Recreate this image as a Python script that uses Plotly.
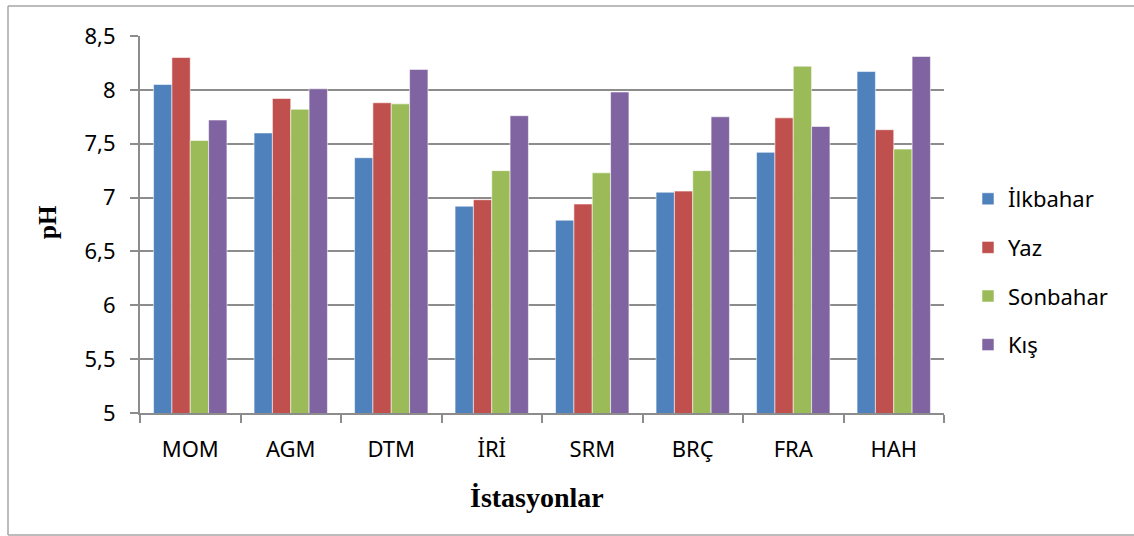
import plotly.graph_objects as go

stations = ["MOM", "AGM", "DTM", "İRİ", "SRM", "BRÇ", "FRA", "HAH"]
ilkbahar = [8.05, 7.60, 7.37, 6.92, 6.79, 7.05, 7.42, 8.17]
yaz      = [8.30, 7.92, 7.88, 6.98, 6.94, 7.06, 7.74, 7.63]
sonbahar = [7.53, 7.82, 7.87, 7.25, 7.23, 7.25, 8.22, 7.45]
kis      = [7.72, 8.01, 8.19, 7.76, 7.98, 7.75, 7.66, 8.31]

series_names = ["İlkbahar", "Yaz", "Sonbahar", "Kış"]
series_vals = [ilkbahar, yaz, sonbahar, kis]
colors = ["#4F81BD", "#C0504D", "#9BBB59", "#8064A2"]

y_ticks = [5, 5.5, 6, 6.5, 7, 7.5, 8, 8.5]
y_ticktext = [str(v).replace(".", ",") if v != int(v) else str(int(v)) for v in y_ticks]

fig = go.Figure()
for i, (name, vals, col) in enumerate(zip(series_names, series_vals, colors)):
    fig.add_trace(go.Bar(
        x=stations, y=vals, name=name, legendgroup=name,
        marker=dict(color=col, line=dict(color="rgba(255,255,255,0.55)", width=1)),
    ))

tick_font = dict(family="Noto Sans, Open Sans, sans-serif", size=22, color="#000000")
L, R, T, B = 140, 190, 36, 123
W, H = 1134, 536
pw, ph = W - L - R, H - T - B

def px_x(px):
    return (px - L) / pw

def px_y(py):
    return (H - B - py) / ph

frame = dict(color="#a6a6a6", width=1.5)
fig.update_layout(
    width=W, height=H,
    margin=dict(l=L, r=R, t=T, b=B, autoexpand=False),
    paper_bgcolor="white", plot_bgcolor="white",
    barmode="group", bargap=0.27, bargroupgap=0,
    showlegend=True,
    legend=dict(
        x=px_x(968), y=px_y(178), xanchor="left", yanchor="top",
        font=tick_font, tracegroupgap=17, itemwidth=30,
        bgcolor="rgba(0,0,0,0)",
    ),
    xaxis=dict(
        type="category", tickson="boundaries", ticks="outside", ticklen=8,
        tickwidth=2, tickcolor="#8c8c8c", showline=True, linecolor="#8c8c8c",
        linewidth=2, showgrid=False, tickfont=tick_font, ticklabelstandoff=16,
    ),
    yaxis=dict(
        range=[5, 8.5], tickvals=y_ticks, ticktext=y_ticktext,
        ticks="outside", ticklen=8, tickwidth=2, tickcolor="#8c8c8c",
        showline=True, linecolor="#8c8c8c", linewidth=2,
        showgrid=True, gridcolor="#8c8c8c", gridwidth=2,
        zeroline=False, tickfont=tick_font, ticklabelstandoff=10,
    ),
    shapes=[
        dict(type="line", xref="paper", yref="paper",
             x0=px_x(8), x1=px_x(8), y0=px_y(535), y1=px_y(6), line=frame, layer="below"),
        dict(type="line", xref="paper", yref="paper",
             x0=px_x(8), x1=px_x(1134), y0=px_y(6), y1=px_y(6), line=frame, layer="below"),
        dict(type="line", xref="paper", yref="paper",
             x0=px_x(8), x1=px_x(1134), y0=px_y(535), y1=px_y(535), line=frame, layer="below"),
    ],
    annotations=[
        dict(text="<b>pH</b>", xref="paper", yref="paper", x=px_x(47), y=px_y(222),
             textangle=-90, showarrow=False, xanchor="center", yanchor="middle",
             font=dict(family="Liberation Serif, DejaVu Serif, serif", size=25, color="#000")),
        dict(text="<b>İstasyonlar</b>", xref="paper", yref="paper", x=px_x(537), y=px_y(497),
             showarrow=False, xanchor="center", yanchor="middle",
             font=dict(family="Liberation Serif, DejaVu Serif, serif", size=28, color="#000")),
    ],
)

fig.write_html(
    "out.html",
    config={"displayModeBar": False},
    post_script="document.body.style.margin='0';document.body.style.overflow='hidden';",
)
